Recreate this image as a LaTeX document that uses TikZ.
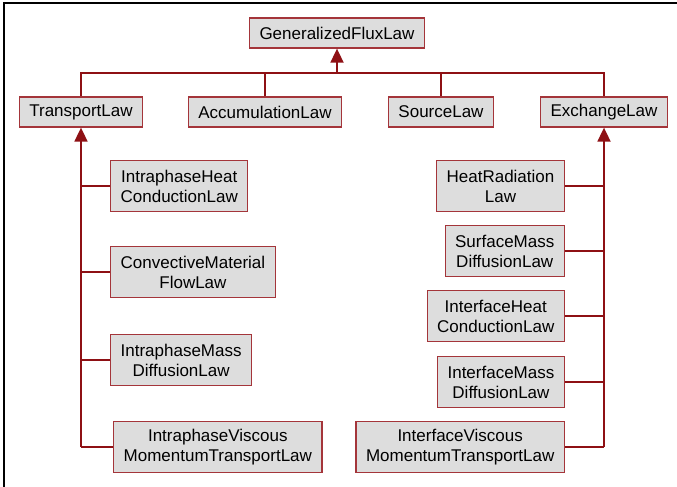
\documentclass[tikz,border=0pt]{standalone}
\usepackage{xcolor}
\usepackage{tikz}
\usepackage{fontspec}
\setmainfont{Liberation Sans}
\usetikzlibrary{arrows.meta, positioning, calc}
\definecolor{lawedge}{HTML}{A4353A}
\definecolor{lawfill}{HTML}{DDDDDD}
\definecolor{linkred}{HTML}{8E1014}

\begin{document}
\begin{tikzpicture}[x=1pt, y=-1pt,
    law/.style={draw=lawedge, fill=lawfill, line width=1.3pt, inner xsep=10pt,
                minimum height=#1, align=center, font=\fontsize{17}{20}\selectfont},
    law/.default=30pt,
    link/.style={draw=linkred, line width=1.8pt},
    tip/.style={-{Triangle[length=14pt, width=13pt]}},
]
    \useasboundingbox (0,0) rectangle (677,487);
    \draw[line width=1.6pt] (4,487) -- (4,3) -- (677,3);

    % top level
    \node[law] (flux) at (337,33) {GeneralizedFluxLaw};
    \node[law] (transport) at (81,112) {TransportLaw};
    \node[law] (accum) at (265,112) {AccumulationLaw};
    \node[law] (source) at (441,112) {SourceLaw};
    \node[law] (exchange) at (604,112) {ExchangeLaw};
    \coordinate (bus) at (337,73);

    % transport laws
    \node[law=51pt, anchor=west] (ihc) at (110,186) {IntraphaseHeat\\ConductionLaw};
    \node[law=51pt, anchor=west] (cmf) at (110,272) {ConvectiveMaterial\\FlowLaw};
    \node[law=51pt, anchor=west] (imd) at (110,360) {IntraphaseMass\\DiffusionLaw};
    \node[law=51pt, anchor=west] (ivm) at (113,447) {IntraphaseViscous\\MomentumTransportLaw};

    % exchange laws
    \node[law=51pt, anchor=east] (hrl) at (565,186) {HeatRadiation\\Law};
    \node[law=51pt, anchor=east] (smd) at (565,251) {SurfaceMass\\DiffusionLaw};
    \node[law=51pt, anchor=east] (fhc) at (565,316) {InterfaceHeat\\ConductionLaw};
    \node[law=51pt, anchor=east] (fmd) at (565,382) {InterfaceMass\\DiffusionLaw};
    \node[law=51pt, anchor=east] (fvm) at (565,447) {InterfaceViscous\\MomentumTransportLaw};

    % connectors
    \draw[link] (transport.north) |- (bus) -| (exchange.north);
    \draw[link] (accum.north) -- (accum.north |- bus);
    \draw[link] (source.north) -- (source.north |- bus);
    \draw[link, tip] (bus) -- (flux.south);

    \draw[link, tip] (ivm.west -| transport.south) -- (transport.south);
    \draw[link] (ivm.west) -- (ivm.west -| transport.south);
    \foreach \n in {ihc, cmf, imd}
        \draw[link] (\n.west) -- (\n.west -| transport.south);

    \draw[link, tip] (fvm.east -| exchange.south) -- (exchange.south);
    \draw[link] (fvm.east) -- (fvm.east -| exchange.south);
    \foreach \n in {hrl, smd, fhc, fmd}
        \draw[link] (\n.east) -- (\n.east -| exchange.south);
\end{tikzpicture}
\end{document}
